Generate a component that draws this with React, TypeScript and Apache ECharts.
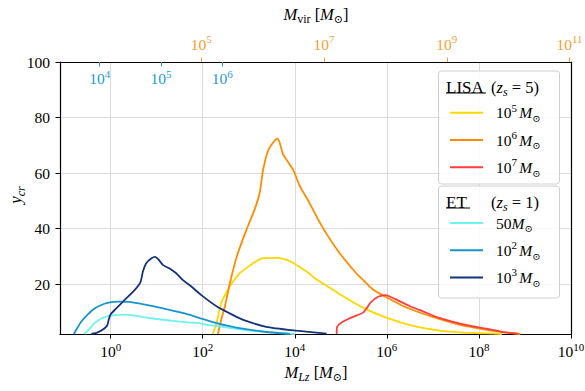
import React, { useEffect, useRef } from 'react';
import * as echarts from 'echarts';

// ---------- data (x as log10 of mass) ----------
const et50LogM = [-0.57, -0.45, -0.35, -0.2, -0.02, 0.15, 0.3, 0.5, 0.67, 0.96, 1.32, 1.68, 1.93, 2.04, 2.3, 2.65, 3.02, 3.4, 3.74, 4.0];
const et50Y = [2.0, 4.0, 5.9, 7.6, 8.6, 8.9, 9.0, 8.7, 8.2, 7.5, 6.8, 6.2, 5.9, 5.5, 4.9, 4.0, 3.2, 2.7, 2.3, 2.0];

const et100LogM = [-0.8, -0.64, -0.5, -0.35, -0.15, -0.02, 0.16, 0.41, 0.74, 0.96, 1.32, 1.72, 2.0, 2.3, 2.73, 3.3, 3.89];
const et100Y = [2.0, 6.4, 9.0, 11.2, 12.8, 13.4, 13.7, 13.6, 12.6, 11.9, 10.5, 8.9, 7.4, 5.9, 4.3, 2.9, 2.0];

const et1000LogM = [-0.42, -0.28, -0.13, -0.07, -0.04, 0.0, 0.12, 0.3, 0.52, 0.65, 0.7, 0.77, 0.88, 0.97, 1.03, 1.14, 1.28, 1.43, 1.57, 1.76, 1.97, 2.3, 2.66, 2.88, 3.38, 4.04, 4.69];
const et1000Y = [2.0, 2.6, 4.1, 5.3, 7.3, 9.1, 11.2, 14.2, 17.8, 20.8, 24.4, 27.4, 29.2, 29.8, 29.0, 26.8, 25.6, 23.8, 21.4, 19.0, 16.0, 12.0, 8.8, 7.1, 4.6, 3.2, 2.1];

const lisa5LogM = [2.22, 2.28, 2.33, 2.41, 2.5, 2.59, 2.8, 3.02, 3.2, 3.31, 3.64, 3.8, 3.96, 4.15, 4.29, 4.43, 4.69, 5.05, 5.49, 6.0, 6.57, 7.15, 7.66, 8.17, 8.5];
const lisa5Y = [2.0, 5.0, 8.2, 13.6, 16.5, 19.2, 23.8, 26.6, 28.6, 29.3, 29.4, 28.8, 27.7, 25.6, 24.1, 22.2, 19.4, 15.6, 11.4, 7.8, 4.9, 3.2, 2.5, 2.2, 2.0];

const lisa6LogM = [2.33, 2.4, 2.48, 2.6, 2.75, 2.95, 3.13, 3.24, 3.31, 3.42, 3.53, 3.62, 3.67, 3.75, 3.96, 4.11, 4.3, 4.5, 4.7, 4.98, 5.34, 5.49, 5.7, 5.97, 6.35, 6.93, 7.59, 8.17, 8.6, 8.9];
const lisa6Y = [2.0, 7.0, 11.8, 21.0, 30.5, 39.5, 47.0, 53.0, 61.0, 68.0, 71.0, 72.4, 71.0, 66.6, 61.3, 55.3, 49.8, 43.5, 37.8, 31.0, 23.8, 21.4, 18.0, 15.4, 12.1, 8.5, 5.3, 3.5, 2.5, 2.0];

const lisa7LogM = [4.91, 4.92, 5.0, 5.16, 5.35, 5.49, 5.57, 5.65, 5.81, 5.97, 6.05, 6.21, 6.5, 6.72, 7.1, 7.44, 7.8, 8.17, 8.5, 8.85];
const lisa7Y = [2.0, 4.6, 6.0, 7.4, 8.7, 9.8, 11.5, 13.4, 15.4, 16.0, 15.6, 14.4, 12.0, 10.6, 8.0, 6.4, 5.0, 3.9, 2.8, 2.0];

// ---------- axes ----------
const xTicks = [1, 1e2, 1e4, 1e6, 1e8, 1e10];
const xMinExp = -1.1;
const xMaxExp = 10;
const yTicks = [20, 40, 60, 80, 100];
const yMin = 2;
const yMax = 100;
const mvirTicks = [1e5, 1e7, 1e9, 1e11];
const mvirMinExp = 2.696;
const mvirMaxExp = 11.024;
const mvirEtTicks = [1e4, 1e5, 1e6];
const mvirEtMinExp = 3.354;
const mvirEtMaxExp = 11.682;

const COLORS = {
  et50: '#6EF3EE',
  et100: '#1795CE',
  et1000: '#13337A',
  lisa5: '#FFD700',
  lisa6: '#FF8C00',
  lisa7: '#FF3D3D',
  mvirLisa: '#F5A02E',
  mvirEt: '#1C9AD6',
};

const FONT = '"Liberation Serif", "DejaVu Serif", serif';
const SYM_FONT = '"DejaVu Serif", "DejaVu Sans", serif';

function richSet(size: number, color: string) {
  const s = Math.round(size * 0.7);
  const lh = size + 6;
  return {
    n: { fontFamily: FONT, fontSize: size, color, lineHeight: lh },
    i: { fontFamily: FONT, fontSize: size, color, fontStyle: 'italic', lineHeight: lh },
    sp: { fontFamily: FONT, fontSize: 9, color, lineHeight: 9 },
    sup: { fontFamily: FONT, fontSize: s, color, verticalAlign: 'top', lineHeight: s + 1 },
    subi: { fontFamily: FONT, fontSize: s, color, fontStyle: 'italic', verticalAlign: 'bottom', lineHeight: s + 1 },
    subn: { fontFamily: FONT, fontSize: s, color, verticalAlign: 'bottom', lineHeight: s + 1 },
    odot: { fontFamily: SYM_FONT, fontSize: s - 1, color, verticalAlign: 'bottom', lineHeight: s + 1 },
  };
}

const powLabel = (v: number) => `{n|10}{sup|${Math.round(Math.log10(v))}}`;
const toPairs = (lx: number[], ys: number[]) => lx.map((e, i) => [Math.pow(10, e), ys[i]]);

const seriesDefs = [
  { key: 'lisa5', name: 'LISA 10^5 Msun', label: '{n|10}{sup|5}{sp| }{i|M}{odot|⊙}', lx: lisa5LogM, ys: lisa5Y },
  { key: 'lisa6', name: 'LISA 10^6 Msun', label: '{n|10}{sup|6}{sp| }{i|M}{odot|⊙}', lx: lisa6LogM, ys: lisa6Y },
  { key: 'lisa7', name: 'LISA 10^7 Msun', label: '{n|10}{sup|7}{sp| }{i|M}{odot|⊙}', lx: lisa7LogM, ys: lisa7Y },
  { key: 'et50', name: 'ET 50 Msun', label: '{n|50}{i|M}{odot|⊙}', lx: et50LogM, ys: et50Y },
  { key: 'et100', name: 'ET 10^2 Msun', label: '{n|10}{sup|2}{sp| }{i|M}{odot|⊙}', lx: et100LogM, ys: et100Y },
  { key: 'et1000', name: 'ET 10^3 Msun', label: '{n|10}{sup|3}{sp| }{i|M}{odot|⊙}', lx: et1000LogM, ys: et1000Y },
];

export default function App() {
  const ref = useRef<HTMLDivElement>(null);
  useEffect(() => {
    if (!ref.current) return;
    const chart = echarts.init(ref.current, null, { renderer: 'svg' });
    const labelMap: Record<string, string> = {};
    seriesDefs.forEach((d) => (labelMap[d.name] = d.label));
    const blackRich = richSet(15.5, '#000');
    const legendBase = {
      orient: 'vertical',
      left: 445,
      icon: 'rect',
      itemWidth: 33,
      itemHeight: 2,
      itemGap: 5.8,
      selectedMode: false,
      z: 20,
      formatter: (name: string) => labelMap[name],
      textStyle: { padding: [0, 0, 0, 8], rich: blackRich },
    };
    const option: any = {
      animation: false,
      backgroundColor: '#fff',
      grid: { left: 60, right: 14, top: 62, bottom: 57, outerBoundsMode: 'none' },
      xAxis: [
        {
          type: 'log',
          logBase: 10,
          position: 'bottom',
          min: Math.pow(10, xMinExp),
          max: Math.pow(10, xMaxExp),
          axisLine: { show: true, onZero: false, lineStyle: { color: '#000', width: 1.2 } },
          axisTick: { show: true, customValues: xTicks, length: 4.5, lineStyle: { color: '#000', width: 1 } },
          axisLabel: { customValues: xTicks, formatter: powLabel, rich: blackRich, margin: 7 },
          splitLine: { show: true, lineStyle: { color: '#dcdcdc', width: 1 } },
          minorTick: { show: false },
        },
        {
          type: 'log',
          logBase: 10,
          position: 'top',
          min: Math.pow(10, mvirMinExp),
          max: Math.pow(10, mvirMaxExp),
          axisLine: { show: true, onZero: false, lineStyle: { color: '#000', width: 1.2 } },
          axisTick: { show: true, customValues: mvirTicks, length: 4.5, lineStyle: { color: COLORS.mvirLisa, width: 1 } },
          axisLabel: { customValues: mvirTicks, formatter: powLabel, rich: richSet(15.5, COLORS.mvirLisa), margin: 7 },
          splitLine: { show: false },
        },
        {
          type: 'log',
          logBase: 10,
          position: 'top',
          min: Math.pow(10, mvirEtMinExp),
          max: Math.pow(10, mvirEtMaxExp),
          axisLine: { show: false },
          axisTick: { show: true, inside: true, customValues: mvirEtTicks, length: 4.5, lineStyle: { color: COLORS.mvirEt, width: 1 } },
          axisLabel: { inside: true, customValues: mvirEtTicks, formatter: powLabel, rich: richSet(15.5, COLORS.mvirEt), margin: 6 },
          splitLine: { show: false },
        },
      ],
      yAxis: [
        {
          type: 'value',
          min: yMin,
          max: yMax,
          axisLine: { show: true, onZero: false, lineStyle: { color: '#000', width: 1.2 } },
          axisTick: { show: true, customValues: yTicks, length: 4.5, lineStyle: { color: '#000', width: 1 } },
          axisLabel: { customValues: yTicks, fontFamily: FONT, fontSize: 15.5, color: '#000', margin: 10 },
          splitLine: { show: true, lineStyle: { color: '#dcdcdc', width: 1 } },
        },
        {
          type: 'value',
          position: 'right',
          min: yMin,
          max: yMax,
          axisLine: { show: true, onZero: false, lineStyle: { color: '#000', width: 1.2 } },
          axisTick: { show: false },
          axisLabel: { show: false },
          splitLine: { show: false },
        },
      ],
      legend: [
        { ...legendBase, top: 97, data: seriesDefs.slice(0, 3).map((d) => d.name) },
        { ...legendBase, top: 210, data: seriesDefs.slice(3).map((d) => d.name) },
      ],
      series: seriesDefs.map((d) => ({
        type: 'line',
        name: d.name,
        xAxisIndex: 0,
        yAxisIndex: 0,
        data: toPairs(d.lx, d.ys),
        symbol: 'none',
        smooth: 0.2,
        lineStyle: { color: (COLORS as any)[d.key], width: 1.8 },
        itemStyle: { color: (COLORS as any)[d.key] },
      })),
      graphic: [
        {
          type: 'text', x: 316, y: 14, z: 5,
          style: { text: '{i|M}{subn|vir}{n| [}{i|M}{odot|⊙}{n|]}', rich: richSet(16.5, '#000'), align: 'center', verticalAlign: 'middle' },
        },
        {
          type: 'text', x: 316, y: 372, z: 5,
          style: { text: '{i|M}{subi|Lz}{n| [}{i|M}{odot|⊙}{n|]}', rich: richSet(16.5, '#000'), align: 'center', verticalAlign: 'middle' },
        },
        {
          type: 'text', x: 15, y: 195, rotation: Math.PI / 2, z: 5,
          style: { text: '{i|y}{subi|cr}', rich: richSet(17, '#000'), align: 'center', verticalAlign: 'middle' },
        },
        {
          type: 'rect', z: 15, shape: { x: 438.5, y: 71, width: 121, height: 113, r: 3 },
          style: { fill: 'rgba(255,255,255,0.85)', stroke: '#d0d0d0', lineWidth: 1 },
        },
        {
          type: 'rect', z: 15, shape: { x: 438.5, y: 186, width: 121, height: 112, r: 3 },
          style: { fill: 'rgba(255,255,255,0.85)', stroke: '#d0d0d0', lineWidth: 1 },
        },
        {
          type: 'text', x: 446, y: 87, z: 16,
          style: { text: '{n|LISA}', rich: richSet(17, '#000'), align: 'left', verticalAlign: 'middle' },
        },
        {
          type: 'text', x: 491, y: 87, z: 16,
          style: { text: '{n|(}{i|z}{subi|s}{n| = 5)}', rich: richSet(16.5, '#000'), align: 'left', verticalAlign: 'middle' },
        },
        { type: 'line', z: 16, shape: { x1: 446, y1: 93, x2: 486, y2: 93 }, style: { stroke: '#000', lineWidth: 1 } },
        {
          type: 'text', x: 446, y: 202, z: 16,
          style: { text: '{n|ET}', rich: richSet(17, '#000'), align: 'left', verticalAlign: 'middle' },
        },
        {
          type: 'text', x: 491, y: 202, z: 16,
          style: { text: '{n|(}{i|z}{subi|s}{n| = 1)}', rich: richSet(16.5, '#000'), align: 'left', verticalAlign: 'middle' },
        },
        { type: 'line', z: 16, shape: { x1: 446, y1: 208, x2: 470, y2: 208 }, style: { stroke: '#000', lineWidth: 1 } },
      ],
    };
    chart.setOption(option);
    return () => chart.dispose();
  }, []);
  return <div ref={ref} style={{ position: 'fixed', left: 0, top: 0, width: 585, height: 391 }} />;
}
